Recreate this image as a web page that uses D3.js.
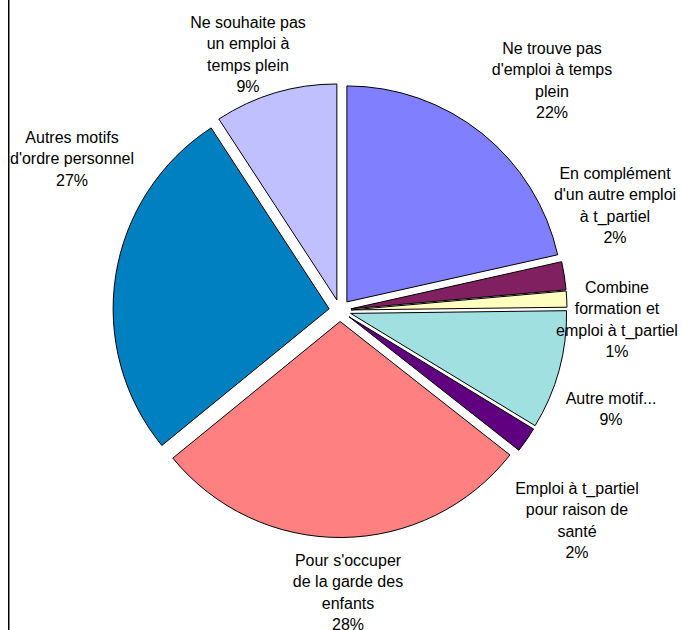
<!DOCTYPE html>
<head>
  <meta charset="utf-8">
  <script src="https://d3js.org/d3.v7.min.js"></script>
  <style>
    body {
      margin: 0;
      background: #fff;
    }

    .label {
      font: 16px "Liberation Sans", Arial, sans-serif;
      fill: #000;
    }

    .slice {
      stroke: #000;
      stroke-width: 1;
    }
  </style>
</head>

<body>
  <svg id="chart" width="682" height="630"></svg>

  <script>
    // categories, clockwise from 12 o'clock
    var categories = [
      "Ne trouve pas d'emploi à temps plein",
      "En complément d'un autre emploi à t_partiel",
      "Combine formation et emploi à t_partiel",
      "Autre motif...",
      "Emploi à t_partiel pour raison de santé",
      "Pour s'occuper de la garde des enfants",
      "Autres motifs d'ordre personnel",
      "Ne souhaite pas un emploi à temps plein"
    ];

    // share in %
    var values = [21.5, 2.1, 1.2, 8.9, 1.9, 28.5, 26.7, 9.2];

    // label lines as they are wrapped in the chart
    var labelLines = [
      ["Ne trouve pas", "d'emploi à temps", "plein"],
      ["En complément", "d'un autre emploi", "à t_partiel"],
      ["Combine", "formation et", "emploi à t_partiel"],
      ["Autre motif..."],
      ["Emploi à t_partiel", "pour raison de", "santé"],
      ["Pour s'occuper", "de la garde des", "enfants"],
      ["Autres motifs", "d'ordre personnel"],
      ["Ne souhaite pas", "un emploi à", "temps plein"]
    ];

    var colors = ["#8080ff", "#802060", "#ffffc0", "#a0e0e0", "#600080", "#ff8080", "#0080c0", "#c0c0ff"];

    // label block anchors (centre x, first line centre y)
    var labelPos = [
      [552, 48], [615, 173], [617, 287], [611, 398],
      [577, 488], [348, 560], [72, 137], [248, 22]
    ];

    var svg = d3.select("#chart"),
      cx = 340,
      cy = 310.5,
      radius = 216,
      explode = 11,
      lineH = 21.5;

    // frame line on the left
    svg.append("line")
      .attr("x1", 8.75).attr("x2", 8.75)
      .attr("y1", 0).attr("y2", 630)
      .attr("stroke", "#000")
      .attr("stroke-width", 1.5);

    var data = categories.map((c, i) => ({ name: c, value: values[i], lines: labelLines[i], color: colors[i] }));

    var pie = d3.pie()
      .sort(null)
      .value(d => d.value);

    var arc = d3.arc()
      .innerRadius(0)
      .outerRadius(radius);

    var arcs = pie(data);

    var g = svg.append("g")
      .attr("transform", "translate(" + cx + "," + cy + ")");

    g.selectAll(".slice")
      .data(arcs)
      .join("path")
      .attr("class", "slice")
      .attr("fill", d => d.data.color)
      .attr("transform", d => {
        var a = (d.startAngle + d.endAngle) / 2;
        return "translate(" + (explode * Math.sin(a)) + "," + (-explode * Math.cos(a)) + ")";
      })
      .attr("d", arc);

    var total = d3.sum(values);

    var labels = svg.selectAll(".label")
      .data(arcs)
      .join("text")
      .attr("class", "label")
      .attr("text-anchor", "middle")
      .attr("x", (d, i) => labelPos[i][0])
      .attr("y", (d, i) => labelPos[i][1]);

    labels.each(function (d, i) {
      var t = d3.select(this);
      var lines = d.data.lines.concat([Math.round(d.data.value / total * 100) + "%"]);
      lines.forEach((l, j) => {
        t.append("tspan")
          .attr("x", labelPos[i][0])
          .attr("y", labelPos[i][1] + j * lineH)
          .attr("dy", "0.35em")
          .text(l);
      });
    });
  </script>
</body>
